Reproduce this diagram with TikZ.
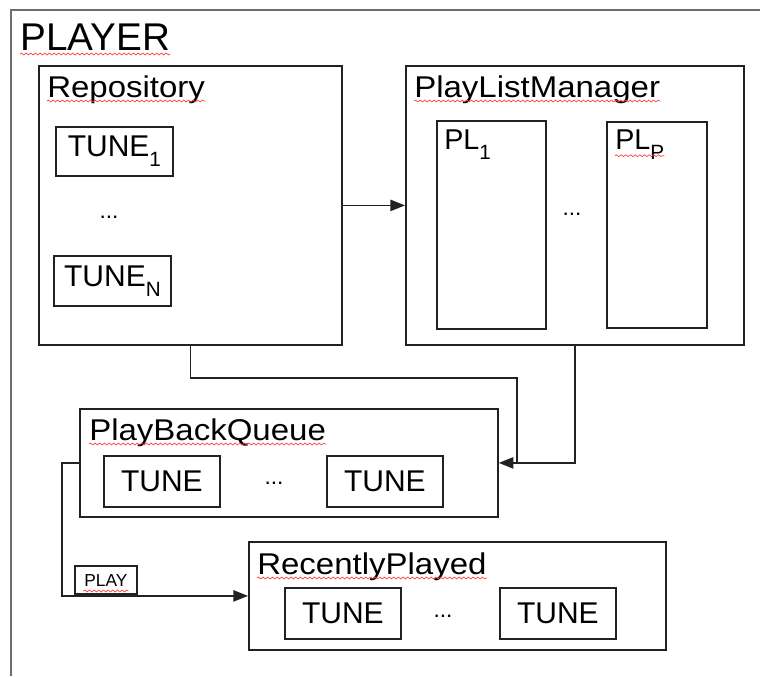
\documentclass[tikz,border=0pt]{standalone}
\usepackage{fontspec}
\setmainfont{Liberation Sans}
\newfontfamily\widefont{Liberation Sans}[FakeStretch=1.1]
\usetikzlibrary{arrows.meta,calc,decorations.pathmorphing}
\definecolor{cline}{HTML}{222222}
\definecolor{cframe}{HTML}{6E6E6E}
\definecolor{cspell}{HTML}{FF3B3B}
\newcommand{\lowsub}[1]{\raisebox{-7.5pt}{\fontsize{15.5}{16}\selectfont #1}}

\begin{document}
\begin{tikzpicture}[
  x=0.75pt, y=-0.75pt,
  box/.style 2 args={draw=cline, line width=1.35pt, minimum width=#1*0.75pt,
                     minimum height=#2*0.75pt, inner sep=0pt, anchor=north west},
  tune/.style 2 args={box={#1}{#2}, font=\fontsize{22.5}{27}\selectfont},
  title/.style={font=\widefont\fontsize{22.5}{27}\selectfont, inner sep=0pt, anchor=base west},
  dots/.style={font=\fontsize{17}{20}\selectfont, inner sep=0pt},
  frame/.style={draw=cframe, line width=1.5pt},
  link/.style={-{Triangle[length=11pt, width=8.5pt]}, line width=1.2pt, draw=cline},
  wire/.style={line width=1.2pt, draw=cline},
  spell/.style={draw=cspell, line width=0.5pt, decorate,
                decoration={snake, amplitude=0.7pt, segment length=3.5pt}},
]
\useasboundingbox (0,0) rectangle (760,676);

% ------------------------------------------------------------ player
\draw[frame] (11,676) -- (11,10) -- (760,10);
\node[title, font=\fontsize{29}{34}\selectfont] (playerT) at (20,50) {PLAYER};

% ------------------------------------------------------------ repository
\node[box={303}{279}] (repo) at (38,65) {};
\node[title] (repoT) at (47,97) {Repository};
\node[tune={117}{49}] (tuneOne) at (55,126) {TUNE\lowsub{1}};
\node[dots] (repoDots) at (109,217) {...};
\node[tune={117}{50}] (tuneN) at (53,255) {TUNE\lowsub{N}};

% ------------------------------------------------------------ playlists
\node[box={338}{279}] (plm) at (405,65) {};
\node[title] (plmT) at (414,97) {PlayListManager};
\node[box={109}{208}] (plOne) at (436,120) {};
\node[title, font=\fontsize{21.5}{26}\selectfont] (plOneT) at (444,149) {PL\lowsub{1}};
\node[dots] (plmDots) at (572,214) {...};
\node[box={100}{206}] (plP) at (606,121) {};
\node[title, font=\fontsize{21.5}{26}\selectfont] (plPT) at (615,149) {PL\lowsub{P}};

\draw[link] (repo.east) -- (plm.west);

% ------------------------------------------------------------ queue
\node[box={418}{108}] (pbq) at (79,408) {};
\node[title] (pbqT) at (89,440) {PlayBackQueue};
\node[tune={116}{51}] (pbqA) at (103,455) {TUNE};
\node[dots] (pbqDots) at (274,483) {...};
\node[tune={116}{51}] (pbqB) at (326,455) {TUNE};

\coordinate (join) at ($(pbq.east)+(18,0)$);
\draw[wire] (repo.south) -- ++(0,32) -| (join);
\draw[link] (plm.south) |- (pbq.east);

% ------------------------------------------------------------ recently played
\node[box={417}{108}] (rp) at (248,541) {};
\node[title] (rpT) at (257,574) {RecentlyPlayed};
\node[tune={116}{51}] (rpA) at (284,587) {TUNE};
\node[dots] (rpDots) at (443,616) {...};
\node[tune={116}{51}] (rpB) at (499,587) {TUNE};

\node[box={62}{28}, anchor=south west, font=\fontsize{13}{15}\selectfont] (play) at (74,595) {PLAY};
\draw[link] (pbq.west) -- ++(-17,0) |- (rp.west);

% ------------------------------------------------------------ spell marks
\foreach \t in {playerT,repoT,plmT,pbqT,rpT}
  \draw[spell] ([yshift=-3pt]\t.base west) -- ([yshift=-3pt]\t.base east);
\draw[spell] ([yshift=-5pt]plPT.base west) -- ([yshift=-5pt]plPT.base east);
\draw[spell] ([xshift=7pt, yshift=3pt]play.south west) -- ([xshift=-7pt, yshift=3pt]play.south east);
\end{tikzpicture}
\end{document}
